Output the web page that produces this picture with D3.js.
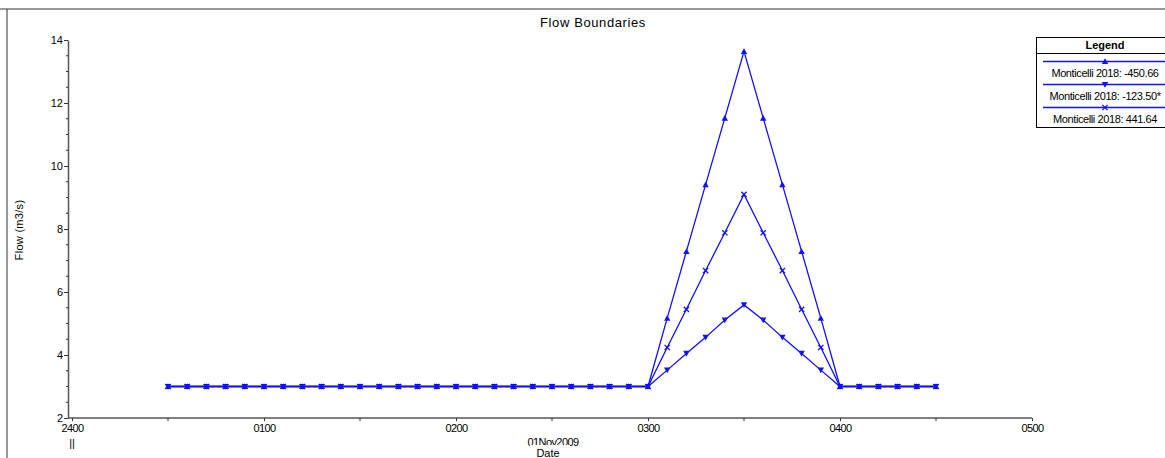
<!DOCTYPE html>
<html>
<head>
<meta charset="utf-8">
<script src="https://cdn.jsdelivr.net/npm/d3@7"></script>
<style>
  html, body { margin: 0; padding: 0; background: #fff; }
  svg { display: block; font-family: "Liberation Sans", Arial, sans-serif; }
</style>
</head>
<body>
<svg id="chart" width="1165" height="458"></svg>
<script>
// Sample times (HHMM, 01 Nov 2009) shared by all three boundaries
const times = [
  "0030","0036","0042","0048","0054","0100","0106","0112","0118","0124",
  "0130","0136","0142","0148","0154","0200","0206","0212","0218","0224",
  "0230","0236","0242","0248","0254","0300","0306","0312","0318","0324",
  "0330","0336","0342","0348","0354","0400","0406","0412","0418","0424",
  "0430"
];

// Flow (m3/s) for each boundary
const flowA = [
  3,3,3,3,3,3,3,3,3,3,
  3,3,3,3,3,3,3,3,3,3,
  3,3,3,3,3,3,5.17,7.29,9.41,11.52,
  13.64,11.52,9.41,7.29,5.17,3,3,3,3,3,
  3
];
const flowB = [
  3,3,3,3,3,3,3,3,3,3,
  3,3,3,3,3,3,3,3,3,3,
  3,3,3,3,3,3,3.52,4.05,4.56,5.11,
  5.59,5.11,4.56,4.05,3.52,3,3,3,3,3,
  3
];
const flowC = [
  3,3,3,3,3,3,3,3,3,3,
  3,3,3,3,3,3,3,3,3,3,
  3,3,3,3,3,3,4.24,5.45,6.68,7.88,
  9.10,7.88,6.68,5.45,4.24,3,3,3,3,3,
  3
];

const seriesNames = [
  "Monticelli 2018: -450.66",
  "Monticelli 2018: -123.50*",
  "Monticelli 2018: 441.64"
];
const seriesMarkers = ["up", "down", "cross"];

const xTickLabels = ["2400", "0100", "0200", "0300", "0400", "0500"];
const yTicks = [2, 4, 6, 8, 10, 12, 14];

const blue = "#1010ff";
const svg = d3.select("#chart");

const parseT = s => new Date(2009, 10, 1, +s.slice(0, 2), +s.slice(2));

const x = d3.scaleTime()
  .domain([new Date(2009, 10, 1, 0, 0), new Date(2009, 10, 1, 5, 0)])
  .range([72, 1032]);
const y = d3.scaleLinear().domain([2, 14]).range([418, 40]);

// Frame lines
svg.append("line").attr("x1", 0).attr("x2", 1165).attr("y1", 9).attr("y2", 9)
  .attr("stroke", "#777").attr("stroke-width", 1.5);
svg.append("line").attr("x1", 7).attr("x2", 7).attr("y1", 9).attr("y2", 458)
  .attr("stroke", "#333").attr("stroke-width", 1);

// Title
svg.append("text").attr("x", 593).attr("y", 27).attr("text-anchor", "middle")
  .attr("font-size", 13).attr("letter-spacing", 0.6).attr("fill", "#000")
  .text("Flow Boundaries");

// Y axis
const yAxis = d3.axisLeft(y).tickValues(yTicks).tickSize(4).tickSizeOuter(0)
  .tickFormat(d3.format("d"));
const gy = svg.append("g").attr("transform", "translate(68,0)").call(yAxis);
gy.select(".domain").attr("stroke", "#555").attr("stroke-width", 1.5);
gy.selectAll(".tick line").attr("stroke", "#333");
gy.selectAll(".tick text").attr("font-size", 11).attr("font-family", "Liberation Sans, Arial, sans-serif")
  .attr("fill", "#000").attr("x", -5);
// minor y ticks
const yMinor = d3.range(2, 14.01, 0.5).filter(v => v % 2 !== 0);
svg.append("g").selectAll("line").data(yMinor).join("line")
  .attr("x1", 66).attr("x2", 68).attr("y1", d => y(d)).attr("y2", d => y(d))
  .attr("stroke", "#333");

svg.append("text").attr("transform", "translate(23,230) rotate(-90)")
  .attr("text-anchor", "middle").attr("font-size", 11).attr("letter-spacing", 0.3)
  .text("Flow (m3/s)");

// X axis
const hourTicks = d3.timeHour.range(new Date(2009, 10, 1, 0, 0), new Date(2009, 10, 1, 5, 1));
const xAxis = d3.axisBottom(x).tickValues(hourTicks).tickSize(3).tickSizeOuter(0)
  .tickFormat((d, i) => xTickLabels[i]);
const gx = svg.append("g").attr("transform", "translate(0,418)").call(xAxis);
gx.select(".domain").attr("stroke", "#555").attr("stroke-width", 1.5).attr("d", "M68,0H1032");
gx.selectAll(".tick line").attr("stroke", "#333");
gx.selectAll(".tick text").attr("font-size", 11).attr("letter-spacing", -0.6)
  .attr("font-family", "Liberation Sans, Arial, sans-serif").attr("fill", "#000").attr("y", 6);
// half-hour minor ticks
const halfTicks = d3.timeMinute.every(30).range(new Date(2009, 10, 1, 0, 0), new Date(2009, 10, 1, 5, 0))
  .filter(d => d.getMinutes() === 30);
svg.append("g").selectAll("line").data(halfTicks).join("line")
  .attr("x1", d => x(d)).attr("x2", d => x(d)).attr("y1", 418).attr("y2", 421)
  .attr("stroke", "#333");

svg.append("text").attr("x", x(new Date(2009, 10, 1, 0, 0))).attr("y", 447)
  .attr("text-anchor", "middle").attr("font-size", 11).text("||");
svg.append("text").attr("x", 553).attr("y", 446).attr("text-anchor", "middle")
  .attr("font-size", 11).attr("letter-spacing", -0.6).text("01Nov2009");
svg.append("rect").attr("x", 530).attr("y", 445).attr("width", 40).attr("height", 13).attr("fill", "#fff");
svg.append("text").attr("x", 548).attr("y", 457).attr("text-anchor", "middle")
  .attr("font-size", 11).text("Date");

// Markers
function marker(sel, kind, cx, cy) {
  const s = 3.2;
  if (kind === "up") {
    sel.append("path").attr("d", `M${cx},${cy - s}L${cx + s},${cy + s * 0.8}L${cx - s},${cy + s * 0.8}Z`)
      .attr("fill", blue);
  } else if (kind === "down") {
    sel.append("path").attr("d", `M${cx},${cy + s}L${cx + s},${cy - s * 0.8}L${cx - s},${cy - s * 0.8}Z`)
      .attr("fill", blue);
  } else {
    const c = 2.6;
    sel.append("path").attr("d", `M${cx - c},${cy - c}L${cx + c},${cy + c}M${cx - c},${cy + c}L${cx + c},${cy - c}`)
      .attr("stroke", blue).attr("stroke-width", 1.3).attr("fill", "none");
  }
}

const allSeries = [flowA, flowB, flowC];
const line = d3.line().x((d, i) => x(parseT(times[i]))).y(d => y(d));
const plot = svg.append("g");
allSeries.forEach((vals, k) => {
  plot.append("path").datum(vals).attr("d", line)
    .attr("fill", "none").attr("stroke", blue).attr("stroke-width", 1.3);
});
allSeries.forEach((vals, k) => {
  const g = plot.append("g");
  vals.forEach((v, i) => marker(g, seriesMarkers[k], x(parseT(times[i])), y(v)));
});

// Legend
const lg = svg.append("g");
lg.append("rect").attr("x", 1036.5).attr("y", 37.5).attr("width", 140).attr("height", 90)
  .attr("fill", "#fff").attr("stroke", "#000").attr("stroke-width", 1);
lg.append("text").attr("x", 1105).attr("y", 49).attr("text-anchor", "middle")
  .attr("font-size", 11).attr("font-weight", "bold").text("Legend");
lg.append("line").attr("x1", 1036.5).attr("x2", 1165).attr("y1", 53.5).attr("y2", 53.5)
  .attr("stroke", "#000");
seriesNames.forEach((name, k) => {
  const ly = 61.5 + k * 23;
  lg.append("line").attr("x1", 1043).attr("x2", 1165).attr("y1", ly).attr("y2", ly)
    .attr("stroke", blue).attr("stroke-width", 1.3);
  marker(lg, seriesMarkers[k], 1105, ly);
  lg.append("text").attr("x", 1105).attr("y", ly + 15).attr("text-anchor", "middle")
    .attr("font-size", 11).attr("letter-spacing", -0.4).text(name);
});
</script>
</body>
</html>
